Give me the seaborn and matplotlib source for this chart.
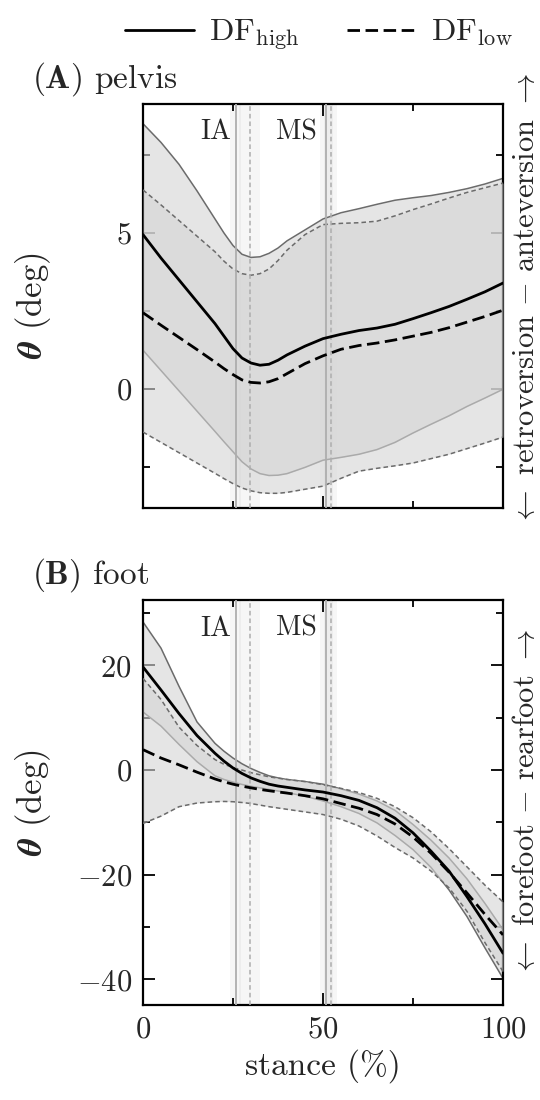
import numpy as np
import pandas as pd
import matplotlib
matplotlib.use("Agg")
import matplotlib.pyplot as plt
import seaborn as sns
from matplotlib.lines import Line2D
from matplotlib.ticker import MultipleLocator

# ---------------- data ----------------
stance = [0, 5, 10, 15, 20, 22.5, 25, 27.5, 30, 32.5, 35, 37.5, 40,
          45, 50, 55, 60, 65, 70, 75, 80, 85, 90, 95, 100]

# (A) pelvis
pelvis_high_mean = [4.95, 4.2, 3.5, 2.8, 2.1, 1.7, 1.3, 1.0, 0.84, 0.77, 0.8, 0.93, 1.1,
                    1.38, 1.62, 1.76, 1.88, 1.96, 2.08, 2.26, 2.45, 2.65, 2.88, 3.12, 3.4]
pelvis_high_upper = [8.5, 7.9, 7.2, 6.35, 5.45, 5.0, 4.6, 4.32, 4.22, 4.24, 4.35, 4.52, 4.75,
                     5.1, 5.45, 5.65, 5.78, 5.92, 6.05, 6.13, 6.2, 6.3, 6.42, 6.57, 6.75]
pelvis_high_lower = [1.25, 0.6, -0.05, -0.7, -1.35, -1.68, -2.0, -2.32, -2.55, -2.7, -2.76, -2.75, -2.7,
                     -2.5, -2.27, -2.18, -2.08, -1.93, -1.7, -1.4, -1.12, -0.85, -0.55, -0.28, 0.0]
pelvis_low_mean = [2.45, 2.05, 1.66, 1.27, 0.87, 0.66, 0.47, 0.3, 0.22, 0.2, 0.24, 0.34, 0.5,
                   0.82, 1.07, 1.28, 1.4, 1.48, 1.58, 1.7, 1.82, 1.97, 2.15, 2.33, 2.53]
pelvis_low_upper = [6.38, 5.9, 5.4, 4.9, 4.4, 4.1, 3.85, 3.7, 3.65, 3.7, 3.85, 4.12, 4.45,
                    4.95, 5.27, 5.31, 5.33, 5.38, 5.55, 5.75, 5.93, 6.12, 6.3, 6.45, 6.6]
pelvis_low_lower = [-1.37, -1.7, -2.03, -2.36, -2.69, -2.86, -3.02, -3.16, -3.25, -3.31, -3.33, -3.33, -3.3,
                    -3.2, -3.1, -2.85, -2.62, -2.53, -2.45, -2.36, -2.22, -2.08, -1.9, -1.72, -1.53]

# (B) foot
foot_high_mean = [19.7, 15.3, 10.8, 6.6, 3.2, 1.7, 0.4, -0.65, -1.5, -2.15, -2.7, -3.05, -3.3,
                  -3.8, -4.2, -4.9, -5.8, -7.2, -9.2, -12.0, -15.5, -19.3, -24.2, -29.4, -35.0]
foot_high_upper = [28.3, 23.3, 16.0, 9.2, 5.1, 3.6, 2.3, 1.2, 0.3, -0.45, -1.1, -1.5, -1.8,
                   -2.2, -2.7, -3.6, -4.6, -5.9, -7.7, -10.4, -13.4, -16.8, -20.8, -25.5, -30.5]
foot_high_lower = [11.1, 8.4, 4.9, 1.6, -1.1, -1.8, -2.3, -2.75, -3.1, -3.4, -3.7, -4.0, -4.3,
                   -5.0, -5.9, -7.0, -8.3, -10.1, -12.5, -15.2, -18.6, -22.9, -28.0, -34.0, -39.8]
foot_low_mean = [3.9, 2.3, 1.0, -0.4, -1.7, -2.25, -2.7, -3.08, -3.4, -3.7, -3.95, -4.18, -4.4,
                 -4.9, -5.5, -6.4, -7.3, -8.5, -10.3, -12.8, -15.9, -19.5, -23.5, -27.6, -31.5]
foot_low_upper = [17.5, 13.5, 8.2, 4.7, 2.0, 1.1, 0.5, 0.0, -0.5, -0.9, -1.3, -1.55, -1.8,
                  -2.2, -2.8, -3.5, -4.3, -5.4, -7.0, -9.1, -11.8, -15.0, -18.5, -22.0, -25.2]
foot_low_lower = [-10.2, -8.8, -7.0, -6.3, -6.05, -6.0, -6.05, -6.2, -6.4, -6.7, -7.0, -7.25, -7.5,
                  -8.0, -8.5, -9.4, -10.7, -12.6, -14.8, -16.8, -19.3, -22.5, -27.0, -33.0, -38.5]

# gait events (% stance): mean and spread for DF_high / DF_low
event_names = ["IA", "MS"]
event_high = [25.8, 50.9]
event_low = [29.6, 52.2]
event_high_sd = [1.5, 1.8]
event_low_sd = [3.0, 1.8]

legend_labels = [r"$\mathrm{DF}_{\mathrm{high}}$", r"$\mathrm{DF}_{\mathrm{low}}$"]

# ---------------- style ----------------
sns.set_theme(style="ticks")
plt.rcParams["font.family"] = ["cmr10", "DejaVu Serif"]
plt.rcParams["mathtext.fontset"] = "cm"
plt.rcParams["axes.formatter.use_mathtext"] = True
plt.rcParams["axes.unicode_minus"] = True

FS_TICK = 22
FS_LAB = 24
FS_EV = 20
DASH = (0, (4.5, 2))
EDGE_DASH = (0, (3, 2))

fig = plt.figure(figsize=(5.4, 11), dpi=100)
axA = fig.add_axes([143 / 540, 1 - 508 / 1100, 360 / 540, 404 / 1100])
axB = fig.add_axes([143 / 540, 1 - 1005 / 1100, 360 / 540, 405 / 1100])


def draw_panel(ax, hm, hu, hl, lm, lu, ll):
    df = pd.DataFrame({"stance": stance, "hm": hm, "hu": hu, "hl": hl,
                       "lm": lm, "lu": lu, "ll": ll})
    # event bands
    for e_h, e_l, s_h, s_l in zip(event_high, event_low, event_high_sd, event_low_sd):
        ax.axvspan(e_h - s_h, e_h + s_h, color="0.5", alpha=0.07, lw=0, zorder=0)
        ax.axvspan(e_l - s_l, e_l + s_l, color="0.5", alpha=0.07, lw=0, zorder=0)
    # DF_high band
    ax.fill_between(df["stance"], df["hl"], df["hu"], color="#d5d5d5", alpha=0.6, lw=0, zorder=1)
    sns.lineplot(data=df, x="stance", y="hu", ax=ax, color="0.42", lw=1.1, zorder=2)
    sns.lineplot(data=df, x="stance", y="hl", ax=ax, color="0.42", lw=1.1, zorder=2)
    # DF_low band (drawn over the high band's edges)
    ax.fill_between(df["stance"], df["ll"], df["lu"], color="#d5d5d5", alpha=0.6, lw=0, zorder=3)
    sns.lineplot(data=df, x="stance", y="lu", ax=ax, color="0.42", lw=1.1, linestyle=EDGE_DASH, zorder=4)
    sns.lineplot(data=df, x="stance", y="ll", ax=ax, color="0.42", lw=1.1, linestyle=EDGE_DASH, zorder=4)
    # event lines
    for e_h, e_l in zip(event_high, event_low):
        ax.axvline(e_h, color="0.68", lw=1.3, zorder=5)
        ax.axvline(e_l, color="0.68", lw=1.1, linestyle=EDGE_DASH, zorder=5)
    # means
    sns.lineplot(data=df, x="stance", y="hm", ax=ax, color="black", lw=2.0, zorder=6)
    sns.lineplot(data=df, x="stance", y="lm", ax=ax, color="black", lw=2.0, linestyle=DASH, zorder=6)
    # event labels
    for name, e_h in zip(event_names, event_high):
        off = 1.4 if name == "IA" else 2.6
        ax.text(e_h - off, 0.93, name, transform=ax.get_xaxis_transform(),
                ha="right", va="center", fontsize=FS_EV)
    ax.set_xlim(0, 100)
    ax.xaxis.set_major_locator(MultipleLocator(50))
    ax.xaxis.set_minor_locator(MultipleLocator(25))
    ax.tick_params(which="both", direction="in", top=True, right=True,
                   width=1.3, labelsize=FS_TICK, color="black", pad=8)
    ax.tick_params(which="major", length=8.5)
    ax.tick_params(which="minor", length=5)
    for sp in ax.spines.values():
        sp.set_linewidth(1.6)
        sp.set_color("black")
    ax.set_ylabel(r"$\mathbfit{\theta}$ (deg)", fontsize=25, math_fontfamily="stix")
    ax.yaxis.set_label_coords(-0.25, 0.5)
    ax.set_xlabel("")


draw_panel(axA, pelvis_high_mean, pelvis_high_upper, pelvis_high_lower,
           pelvis_low_mean, pelvis_low_upper, pelvis_low_lower)
draw_panel(axB, foot_high_mean, foot_high_upper, foot_high_lower,
           foot_low_mean, foot_low_upper, foot_low_lower)

axA.set_ylim(-3.8, 9.13)
axA.yaxis.set_major_locator(MultipleLocator(5))
axA.yaxis.set_minor_locator(MultipleLocator(2.5))
axA.tick_params(labelbottom=False)

axB.set_ylim(-44.9, 32.5)
axB.yaxis.set_major_locator(MultipleLocator(20))
axB.yaxis.set_minor_locator(MultipleLocator(10))
axB.set_xlabel("stance (%)", fontsize=FS_LAB, labelpad=4)

# right-hand direction labels
axA.text(1.065, 0.515, r"$\leftarrow$ retroversion $-$ anteversion $\rightarrow$",
         transform=axA.transAxes, rotation=90, ha="center", va="center", fontsize=22)
axB.text(1.065, 0.5, r"$\leftarrow$ forefoot $-$ rearfoot $\rightarrow$",
         transform=axB.transAxes, rotation=90, ha="center", va="center", fontsize=22)

# panel titles
fig.text(32 / 540, 1 - 79 / 1100, r"($\mathbf{A}$) pelvis", fontsize=FS_LAB, ha="left", va="center")
fig.text(32 / 540, 1 - 575 / 1100, r"($\mathbf{B}$) foot", fontsize=FS_LAB, ha="left", va="center")

# legend
handles = [Line2D([], [], color="black", lw=2.0),
           Line2D([], [], color="black", lw=2.0, linestyle=DASH)]
fig.legend(handles, legend_labels, loc="center", bbox_to_anchor=(0.59, 1 - 35 / 1100),
           ncol=2, frameon=False, fontsize=23, handlelength=2.15,
           handletextpad=0.47, columnspacing=1.5)

fig.savefig("out.png", dpi=100)
